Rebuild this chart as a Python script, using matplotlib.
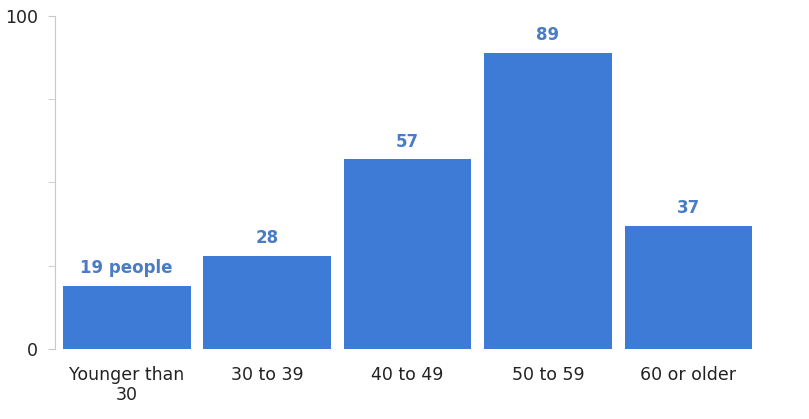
import matplotlib.pyplot as plt

plt.rcParams['font.family'] = ['DejaVu Sans']

groups = ['Younger than\n30', '30 to 39', '40 to 49', '50 to 59', '60 or older']
people = [19, 28, 57, 89, 37]
value_labels = ['19 people', '28', '57', '89', '37']

fig = plt.figure(figsize=(8.09, 4.19), dpi=100)
ax = fig.add_axes([0.068, 0.167, 0.868, 0.795])

x = range(len(groups))
bars = ax.bar(x, people, width=0.91, color='#3e7bd6')

for b, lab in zip(bars, value_labels):
    ax.annotate(lab, (b.get_x() + b.get_width() / 2, b.get_height()),
                xytext=(0, 6), textcoords='offset points', ha='center', va='bottom',
                fontsize=12, fontweight='bold', color='#4a7cc6')

ax.set_xlim(-0.51, 4.49)
ax.set_ylim(0, 100)
ax.set_yticks([0, 100])
ax.set_yticks([25, 50, 75], minor=True)
ax.set_xticks(list(x))
ax.set_xticklabels(groups)

for s in ['top', 'right', 'bottom']:
    ax.spines[s].set_visible(False)
ax.spines['left'].set_color('#c8c8c8')
ax.tick_params(axis='y', which='both', length=5, color='#c8c8c8',
               labelsize=12.5, labelcolor='#222222', pad=7)
ax.tick_params(axis='x', length=0, labelsize=12.5, labelcolor='#222222', pad=12)

fig.savefig('out.png', dpi=100)
